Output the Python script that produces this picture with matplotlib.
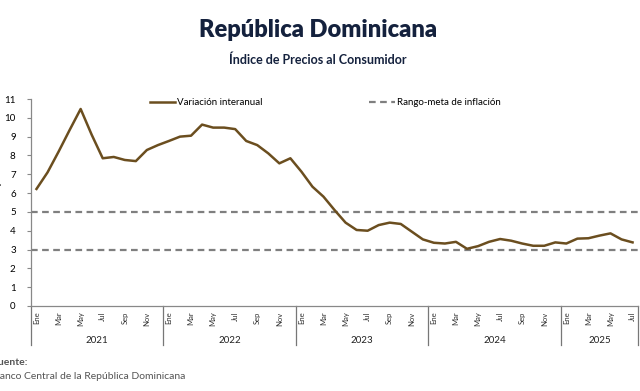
import matplotlib
matplotlib.use("Agg")
import matplotlib.pyplot as plt
import matplotlib.transforms as mtransforms

plt.rcParams['font.family'] = ['Lato', 'DejaVu Sans']

# Índice de Precios al Consumidor, variación interanual (%), Ene 2021 - Jul 2025
years = ['2021', '2022', '2023', '2024', '2025']
months_per_year = [12, 12, 12, 12, 7]
month_names = ['Ene', 'Feb', 'Mar', 'Abr', 'May', 'Jun',
               'Jul', 'Ago', 'Sep', 'Oct', 'Nov', 'Dic']
inflation = [
    6.22, 7.10, 8.20, 9.35, 10.47, 9.10, 7.85, 7.92, 7.76, 7.70, 8.29, 8.55,
    8.77, 9.00, 9.05, 9.64, 9.48, 9.48, 9.40, 8.77, 8.55, 8.11, 7.58, 7.85,
    7.14, 6.34, 5.81, 5.10, 4.43, 4.04, 4.00, 4.30, 4.43, 4.36, 3.95, 3.54,
    3.36, 3.32, 3.41, 3.04, 3.18, 3.41, 3.56, 3.47, 3.32, 3.20, 3.20, 3.38,
    3.32, 3.58, 3.60, 3.74, 3.86, 3.54, 3.38,
]
target_low = 3.0
target_high = 5.0

LINE = '#6b4e1f'
DASH = '#7f7f7f'
NAVY = '#14213d'

n = len(inflation)
x = list(range(n))
labels = []
for ny in months_per_year:
    labels += month_names[:ny]

fig = plt.figure(figsize=(6.4, 3.91), dpi=100)
ax = fig.add_axes([0.0484, 0.2174, 0.9486, 0.5294])

dash = (0, (3.0, 2.0))
ax.axhline(target_high, color=DASH, lw=1.6, ls=dash)
ax.axhline(target_low, color=DASH, lw=1.6, ls=dash,
           label='Rango-meta de inflación')
ax.plot(x, inflation, color=LINE, lw=1.8, solid_joinstyle='round',
        label='Variación interanual')

ax.set_xlim(-0.5, n - 0.5)
ax.set_ylim(0, 11)
ax.set_yticks(range(0, 12))
ax.tick_params(axis='y', labelsize=7, length=3, color='#888888', pad=8)

# month ticks every two months
xt = []
pos = 0
for ny in months_per_year:
    xt += [pos + m for m in range(0, ny, 2)]
    pos += ny
ax.set_xticks(xt)
ax.set_xticklabels([labels[i] for i in xt], rotation=90, fontsize=5.5,
                   color='#333333')
ax.tick_params(axis='x', length=0, pad=4)

for s in ['top', 'right']:
    ax.spines[s].set_visible(False)
for s in ['left', 'bottom']:
    ax.spines[s].set_color('#888888')
    ax.spines[s].set_linewidth(0.9)

# year separators and year labels
trans = mtransforms.blended_transform_factory(ax.transData, ax.transAxes)
pos = 0
bounds = [-0.5]
for yr, ny in zip(years, months_per_year):
    ax.text(pos + (ny - 1) / 2, -0.165, yr, transform=trans, ha='center',
            va='center', fontsize=7, color='#222222')
    pos += ny
    bounds.append(pos - 0.5)
for b in bounds:
    ax.plot([b, b], [0, -0.19], transform=trans, color='#777777', lw=0.9,
            clip_on=False)

handles, lbls = ax.get_legend_handles_labels()
order = [1, 0]
fig.legend([handles[i] for i in order], [lbls[i] for i in order],
           loc='center', bbox_to_anchor=(0.508, 0.737), ncol=2, frameon=False,
           fontsize=7, handlelength=2.6, handletextpad=0.2, columnspacing=11)

fig.text(0.497, 0.923, 'República Dominicana', ha='center', va='center',
         fontsize=17, fontweight='heavy', color=NAVY)
fig.text(0.497, 0.847, 'Índice de Precios al Consumidor', ha='center',
         va='center', fontsize=9, fontweight='bold', color=NAVY)

fig.text(-0.005, 0.49, 'Porcentaje', rotation=90, ha='center', va='center',
         fontsize=7, color='#333333')
fig.text(0.043, 0.074, 'Fuente:', ha='right', va='center', fontsize=7.5,
         fontweight='bold', color='#555555')
fig.text(0.290, 0.036, 'Banco Central de la República Dominicana', ha='right',
         va='center', fontsize=7.5, color='#555555')

fig.savefig('out.png', dpi=100)
